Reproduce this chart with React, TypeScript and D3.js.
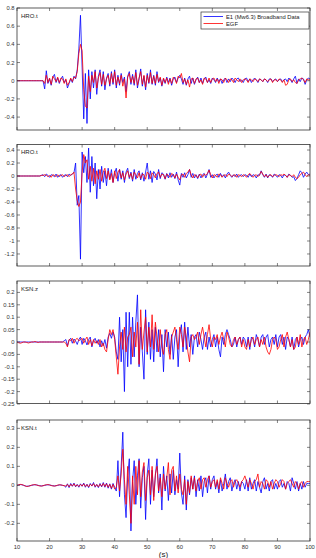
import * as d3 from 'd3';

// sampled every 0.5 s starting at t = 10 s (10 values per row = 5 s)
const T0 = 10;
const DT = 0.5;

const hroT1Data = [
  0, 0, 0, 0, 0, 0, 0, 0, 0, 0,
  0, 0, 0, 0, 0, 0, 0, -0.09, 0.11, -0.03,
  0.02, -0.05, 0.04, 0.07, -0.02, 0.03, -0.03, 0.02, 0.05, -0.02,
  0.01, -0.08, -0.03, 0.02, -0.02, 0.05, 0.02, 0.12, 0.35, 0.72,
  0.15, -0.42, 0.08, -0.47, 0.12, -0.2, 0.1, -0.08, 0.12, -0.15,
  0.05, 0.12, -0.06, 0.1, -0.1, 0.03, 0.08, -0.06, 0.1, -0.04,
  0.12, -0.08, 0.06, -0.05, 0.08, -0.02, 0.04, -0.12, 0.05, 0.1,
  -0.04, 0.07, -0.05, 0.12, -0.08, 0.02, 0.13, -0.06, 0.05, -0.1,
  0.08, -0.03, 0.12, -0.04, 0.06, -0.05, 0.1, -0.02, 0.03, -0.06,
  0.02, -0.03, 0.04, -0.02, 0.03, -0.05, 0.02, 0.04, -0.02, 0.03,
  0.06, 0.02, -0.04, 0.03, -0.05, 0.02, 0.05, -0.03, 0.03, -0.04,
  0.01, 0.04, -0.02, 0.03, -0.03, 0.02, 0.04, -0.02, 0.01, -0.03,
  0.03, 0.01, -0.02, 0.03, -0.01, 0.02, -0.03, 0.01, 0.03, -0.02,
  0.02, -0.01, 0.03, 0.01, -0.02, 0.02, 0.03, -0.01, 0.01, -0.02,
  0.02, 0.03, -0.01, 0.02, -0.02, 0.01, 0.03, 0.01, -0.02, 0.02,
  0.01, -0.01, 0.02, 0.01, -0.02, 0.02, 0.02, -0.01, 0.01, 0.02,
  -0.01, 0.01, 0.02, -0.01, 0.01, 0.02, -0.01, 0.03, 0.01, -0.02,
  0.02, 0.05, -0.03, 0.02, -0.01, 0.03, 0.02, -0.04, 0.01, 0.03,
  0.02,
];
const hroT1Egf = [
  0, 0, 0, 0, 0, 0, 0, 0, 0, 0,
  0, 0, 0, 0, 0, 0, 0, -0.03, 0.06, -0.02,
  0.03, -0.04, 0.05, 0.02, -0.01, 0.04, -0.02, 0.03, 0.02, -0.03,
  0.02, -0.05, -0.02, 0.03, -0.01, 0.04, 0.03, 0.1, 0.3, 0.4,
  0.33, -0.1, -0.28, -0.3, 0.05, -0.12, 0.06, -0.02, 0.1, -0.08,
  0.03, 0.09, -0.04, 0.07, -0.05, 0.02, 0.06, -0.04, 0.08, -0.02,
  0.1, -0.05, 0.04, -0.03, 0.06, -0.06, 0.02, -0.19, 0.04, 0.08,
  -0.02, 0.05, -0.03, 0.09, -0.05, 0.03, 0.1, -0.04, 0.06, -0.07,
  0.06, -0.02, 0.09, -0.03, 0.05, -0.03, 0.07, -0.01, 0.04, -0.05,
  0.03, -0.02, 0.03, -0.04, 0.02, -0.03, 0.04, 0.02, -0.03, 0.05,
  0.03, 0.08, -0.02, 0.02, -0.04, 0.01, -0.07, 0.02, 0.03, -0.03,
  0.02, 0.03, -0.02, 0.01, -0.04, 0.03, 0.02, -0.02, 0.03, -0.02,
  0.02, 0.03, -0.01, 0.02, -0.03, 0.02, 0.01, -0.02, 0.03, 0.01,
  -0.02, 0.02, 0.01, -0.02, 0.03, 0.01, -0.01, 0.02, -0.02, 0.01,
  0.02, 0.01, -0.02, 0.02, 0.01, -0.01, 0.02, 0.01, -0.01, 0.02,
  0.01, -0.01, 0.02, 0.01, -0.01, 0.01, 0.02, -0.02, 0.01, 0.01,
  -0.01, 0.02, 0.01, -0.02, 0.01, -0.05, -0.04, 0.01, 0.02, -0.01,
  0.01, -0.02, -0.03, 0.01, 0.02, 0.03, 0.01, -0.02, 0.02, 0.01,
  0.01,
];

const hroT2Data = [
  0, 0, 0, 0, 0, 0, 0, 0, 0, 0,
  0, 0, 0, 0, 0, 0.01, 0.02, -0.01, 0.03, 0.01,
  -0.02, 0.02, 0.01, -0.01, 0.03, -0.02, 0.01, 0.02, -0.02, 0.01,
  0.02, -0.01, 0.03, 0.01, 0.03, 0.05, 0.2, -0.45, -0.3, -1.28,
  0.37, 0.05, 0.3, -0.1, 0.43, -0.25, 0.3, -0.15, 0.2, -0.35,
  0.1, -0.2, 0.15, -0.1, 0.08, -0.15, 0.12, -0.05, 0.1, -0.1,
  0.05, 0.12, -0.08, 0.1, -0.05, 0.08, -0.1, 0.06, 0.12, -0.04,
  0.06, -0.08, 0.1, -0.05, 0.04, 0.08, -0.06, 0.05, -0.08, 0.06,
  0.2, -0.05, 0.08, -0.1, 0.07, 0.03, -0.06, 0.1, -0.04, 0.05,
  0.03, -0.05, 0.04, -0.03, 0.05, -0.02, 0.03, -0.04, 0.06, -0.06,
  -0.14, 0.04, -0.02, 0.05, -0.03, 0.02, 0.1, -0.02, 0.04, -0.03,
  0.02, -0.04, 0.03, -0.03, 0.02, 0.04, -0.03, 0.03, 0.1, -0.02,
  0.02, -0.03, 0.01, 0.03, -0.02, 0.04, -0.01, 0.02, -0.03, 0.03,
  0.06, 0.01, -0.02, 0.02, -0.01, 0.03, -0.02, 0.01, 0.02, -0.01,
  0.02, 0.01, -0.02, 0.03, -0.01, 0.02, 0.01, -0.03, 0.02, 0.01,
  0.08, 0.02, -0.02, 0.03, -0.03, 0.02, 0.01, -0.02, 0.03, 0.01,
  -0.02, 0.02, 0.01, -0.03, 0.02, 0.01, -0.02, 0.03, 0.01, -0.02,
  -0.01, -0.07, -0.04, 0.02, 0.08, 0.05, -0.02, 0.03, 0.06, 0.02,
  0.03,
];
const hroT2Egf = [
  0, 0, 0, 0, 0, 0, 0, 0, 0, 0,
  0, 0, 0, 0, 0, 0.01, 0.01, 0.02, 0.01, -0.01,
  0.01, -0.02, 0.02, 0.01, -0.01, 0.02, -0.01, 0.01, 0.02, -0.01,
  0.01, 0.02, -0.01, 0.02, 0.03, 0.06, -0.2, -0.38, -0.47, -0.4,
  0.05, 0.33, 0.2, 0.25, -0.05, 0.15, -0.08, 0.12, -0.12, 0.08,
  -0.05, 0.1, -0.08, 0.06, 0.12, -0.04, 0.08, -0.06, 0.04, -0.1,
  0.08, -0.04, 0.06, 0.1, -0.03, 0.05, -0.06, 0.03, 0.08, -0.02,
  0.04, -0.05, 0.06, 0.02, -0.03, 0.05, -0.04, 0.03, 0.02, -0.05,
  0.06, 0.03, -0.04, 0.05, 0.02, -0.03, 0.04, 0.06, -0.02, 0.03,
  0.02, -0.04, 0.03, 0.01, -0.02, 0.04, 0.02, -0.03, 0.03, -0.02,
  -0.06, 0.02, 0.03, -0.02, 0.04, 0.06, 0.1, 0.02, -0.03, 0.02,
  0.01, -0.03, 0.02, 0.03, -0.02, 0.03, 0.01, 0.04, 0.09, 0.02,
  -0.03, 0.02, 0.01, -0.02, 0.03, 0.02, -0.02, 0.01, 0.02, -0.01,
  0.03, 0.02, -0.01, 0.01, 0.02, -0.02, 0.02, 0.01, -0.01, 0.02,
  0.01, -0.02, 0.02, 0.04, 0.01, -0.02, 0.01, 0.02, -0.01, 0.02,
  0.07, 0.03, -0.01, 0.02, -0.02, 0.01, 0.02, -0.01, 0.01, 0.02,
  0.01, -0.01, 0.02, 0.01, 0.03, 0.01, -0.02, 0.02, 0.01, -0.01,
  0.02, -0.02, -0.04, -0.02, 0.02, 0.04, 0.06, 0.02, -0.01, 0.02,
  0.01,
];

const ksnZData = [
  0, 0, 0, 0, 0, 0, 0, 0, 0, 0,
  0, 0, 0, 0, 0, 0, 0, 0, 0, 0,
  0, 0, 0, 0, 0, 0, 0, 0, 0, 0.005,
  0.01, -0.015, 0.008, 0.015, -0.005, 0.012, 0.004, -0.01, 0.01, 0.02,
  -0.01, 0.015, 0.005, -0.012, 0.01, 0.02, -0.02, 0.005, 0.015, -0.005,
  0.01, -0.02, 0.005, -0.015, 0.01, -0.025, 0.02, 0.035, 0.015, 0.04,
  0.02, -0.04, -0.07, 0.1, -0.08, 0.05, -0.2, 0.12, -0.1, 0.12,
  -0.09, 0.1, -0.06, 0.08, 0.19, -0.1, 0.06, -0.04, -0.15, 0.13,
  -0.05, 0.08, -0.07, 0.05, -0.08, 0.06, -0.04, 0.05, -0.06, 0.03,
  -0.12, 0.05, -0.02, 0.04, -0.05, 0.03, -0.07, 0.02, 0.05, -0.1,
  0.03, 0.07, -0.04, 0.08, -0.03, 0.06, -0.02, 0.03, -0.05, 0.02,
  0.03, -0.02, 0.04, 0.01, -0.03, 0.02, 0.04, -0.03, 0.02, -0.02,
  0.01, 0.03, -0.02, 0.02, -0.03, -0.06, 0.02, -0.01, 0.03, 0.05,
  0.03, 0.01, -0.02, -0.01, 0.02, -0.02, 0.01, 0.02, -0.01, 0.02,
  0.01, -0.02, 0.02, -0.03, 0.02, 0.01, -0.02, 0.03, 0.01, -0.02,
  0.02, 0.03, -0.01, 0.02, 0.03, -0.02, 0.01, 0.02, -0.01, 0.03,
  -0.02, 0.02, 0.03, -0.01, 0.02, -0.03, 0.02, 0.01, -0.02, 0.02,
  -0.03, 0.01, 0.02, -0.02, 0.01, 0.02, -0.01, 0.02, 0.03, 0.05,
  0.02,
];
const ksnZEgf = [
  0, -0.003, -0.005, -0.003, 0, 0, -0.002, -0.004, -0.002, 0,
  0, 0.002, 0, -0.002, 0, 0, 0, 0, 0, 0,
  0, 0, 0, 0, 0, 0, 0, 0, 0, 0,
  -0.005, -0.02, 0.01, 0.005, 0.015, -0.005, 0.01, 0.015, 0.005, 0.01,
  0.015, -0.005, 0.01, 0.02, -0.01, 0.01, -0.015, 0.01, -0.005, 0.005,
  -0.01, 0.01, -0.02, -0.005, -0.03, -0.04, 0.01, 0.05, 0.03, 0.05,
  0.01, -0.06, -0.13, -0.02, 0.04, -0.03, 0.06, -0.04, 0.02, 0.03,
  0.06, -0.06, 0.04, -0.02, 0.08, -0.09, 0.13, -0.03, 0.04, 0.1,
  -0.04, 0.06, -0.02, 0.11, -0.03, 0.08, 0.02, -0.04, 0.05, -0.02,
  -0.05, 0.03, 0.05, -0.03, -0.07, 0.02, 0.04, 0.06, 0.01, -0.03,
  0.06, 0.03, -0.02, 0.06, 0.02, -0.04, -0.08, 0.02, 0.03, 0.01,
  0.02, 0.04, -0.01, 0.03, 0.06, 0.02, -0.02, 0.03, 0.07, 0.01,
  -0.02, 0.02, 0.01, 0.03, -0.01, 0.02, 0.04, 0.01, -0.02, 0.04,
  0.02, -0.01, -0.02, 0.01, 0.02, -0.01, 0.01, 0.02, -0.02, 0.01,
  -0.02, -0.03, 0.01, -0.02, 0.01, 0.02, -0.01, 0.01, 0.02, -0.02,
  0.01, -0.01, 0.02, -0.02, -0.04, -0.05, -0.03, 0.01, 0.02, 0.01,
  -0.03, -0.02, 0.01, 0.03, -0.02, 0.02, 0.04, 0.01, -0.02, 0.01,
  -0.03, -0.02, 0.02, -0.01, 0.03, -0.02, 0.01, 0.02, -0.01, 0.01,
  0.04,
];

const ksnTData = [
  0, 0.002, 0.004, 0.003, 0, -0.003, -0.005, -0.004, -0.002, 0,
  0.002, 0.003, 0.002, 0, -0.002, -0.003, -0.002, 0, 0.002, 0.003,
  0.002, 0, -0.002, -0.003, -0.002, 0, 0.002, 0.002, 0, -0.002,
  -0.01, 0.008, -0.012, 0.01, -0.005, 0.012, -0.008, 0.005, -0.01, 0.008,
  -0.005, 0.012, -0.01, 0.006, -0.012, 0.01, -0.004, 0.015, -0.01, 0.005,
  -0.012, 0.01, -0.008, 0.015, -0.01, 0.012, -0.015, 0.008, -0.02, 0.01,
  -0.01, -0.03, 0.13, -0.06, 0.1, 0.28, -0.05, -0.17, 0.05, 0.14,
  -0.24, 0.02, 0.13, -0.1, 0.05, 0.14, -0.12, 0.04, 0.1, -0.18,
  0.06, 0.14, -0.1, 0.08, -0.06, 0.05, 0.14, -0.04, 0.06, -0.13,
  0.1, -0.03, 0.05, -0.08, 0.06, -0.04, 0.08, -0.05, 0.03, -0.02,
  0.17, -0.04, -0.1, 0.05, -0.13, 0.03, -0.05, 0.04, -0.02, 0.05,
  -0.06, 0.03, -0.03, 0.05, -0.06, 0.02, 0.04, -0.04, 0.05, -0.02,
  0.03, 0.05, -0.02, 0.02, -0.04, 0.03, -0.03, 0.01, 0.06, -0.02,
  0.02, 0.04, -0.03, 0.01, 0.03, -0.02, 0.02, -0.03, 0.02, 0.01,
  -0.02, 0.03, -0.03, 0.04, -0.02, 0.01, 0.03, -0.03, 0.02, -0.01,
  -0.04, 0.02, 0.04, -0.02, 0.01, -0.03, 0.02, 0.03, -0.02, 0.01,
  -0.02, 0.02, 0.03, -0.01, 0.01, -0.02, 0.02, 0.01, -0.03, 0.04,
  0.01, -0.02, 0.02, -0.03, 0.01, -0.02, 0.02, -0.01, 0.01, 0.01,
  0.01,
];
const ksnTEgf = [
  0, 0.003, 0.005, 0.004, 0.001, -0.003, -0.006, -0.005, -0.002, 0.001,
  0.003, 0.004, 0.002, -0.001, -0.003, -0.004, -0.002, 0.001, 0.003, 0.004,
  0.002, -0.001, -0.003, -0.004, -0.002, 0.001, 0.003, 0.002, 0, -0.002,
  -0.003, 0.005, -0.008, 0.006, -0.004, 0.008, -0.005, 0.003, -0.006, 0.005,
  -0.004, 0.008, -0.006, 0.004, -0.008, 0.006, -0.003, 0.009, -0.006, 0.004,
  -0.008, 0.006, -0.005, 0.01, -0.006, 0.008, -0.01, 0.005, -0.015, 0.005,
  -0.02, -0.01, 0.05, -0.03, 0.06, 0.19, 0.03, -0.1, 0.1, -0.05,
  -0.2, 0.05, -0.1, 0.1, -0.05, 0.13, -0.06, 0.07, 0.12, -0.08,
  0.04, 0.08, -0.05, 0.1, -0.08, 0.06, 0.1, -0.03, 0.04, -0.06,
  0.06, -0.02, 0.04, 0.12, -0.05, 0.08, 0.1, -0.03, 0.05, -0.04,
  0.06, -0.02, -0.05, 0.03, -0.1, 0.02, -0.04, 0.05, -0.02, 0.04,
  -0.03, 0.02, 0.04, -0.02, 0.03, 0.04, -0.01, 0.03, 0.05, -0.01,
  0.02, 0.03, -0.01, 0.03, -0.02, 0.04, 0.01, -0.02, 0.04, 0.01,
  -0.01, 0.02, 0.03, -0.01, 0.02, 0.03, 0.01, -0.01, 0.02, 0.03,
  0.05, 0.02, -0.01, 0.03, 0.01, -0.02, 0.02, 0.03, 0.06, -0.01,
  0.02, 0.01, -0.02, 0.03, 0.02, -0.01, 0.02, -0.02, 0.01, 0.03,
  0.02, -0.01, 0.01, 0.03, 0.02, -0.02, 0.01, 0.02, 0.03, 0.01,
  -0.01, 0.02, 0.01, -0.02, 0.01, 0.02, -0.01, 0.01, 0.02, 0.02,
  0.02,
];

const stations = ['HRO.t', 'HRO.t', 'KSN.z', 'KSN.t'];
const seriesNames = ['E1 (Mw6.3) Broadband Data', 'EGF'];
const xTicks = [10, 20, 30, 40, 50, 60, 70, 80, 90, 100];
const yTicks1 = [-0.4, -0.2, 0, 0.2, 0.4, 0.6, 0.8];
const yTicks2 = [-1.2, -1, -0.8, -0.6, -0.4, -0.2, 0, 0.2, 0.4];
const yTicks3 = [-0.25, -0.2, -0.15, -0.1, -0.05, 0, 0.05, 0.1, 0.15, 0.2];
const yTicks4 = [-0.2, -0.1, 0, 0.1, 0.2, 0.3];

const W = 316;
const H = 558;
const X0 = 17;
const X1 = 310;

const panels = [
  { name: stations[0], data: hroT1Data, egf: hroT1Egf, ticks: yTicks1, domain: [-0.542, 0.8], top: 8, bottom: 130 },
  { name: stations[1], data: hroT2Data, egf: hroT2Egf, ticks: yTicks2, domain: [-1.385, 0.485], top: 144.5, bottom: 266 },
  { name: stations[2], data: ksnZData, egf: ksnZEgf, ticks: yTicks3, domain: [-0.248, 0.246], top: 281, bottom: 403.5 },
  { name: stations[3], data: ksnTData, egf: ksnTEgf, ticks: yTicks4, domain: [-0.293, 0.344], top: 420, bottom: 541 },
];

const FONT = '"Liberation Sans", Arial, sans-serif';
const fmt = (v: number) => (v === 0 ? '0' : String(+v.toFixed(2)));

export default function App() {
  const x = d3.scaleLinear().domain([10, 100]).range([X0, X1]);

  return (
    <svg width={W} height={H} style={{ position: 'absolute', left: 0, top: 0, background: '#fff' }}>
      <defs>
        {panels.map((p, i) => (
          <clipPath id={`clip${i}`} key={i}>
            <rect x={X0} y={p.top} width={X1 - X0} height={p.bottom - p.top} />
          </clipPath>
        ))}
      </defs>
      {panels.map((p, i) => {
        const y = d3.scaleLinear().domain(p.domain).range([p.bottom, p.top]);
        const line = d3
          .line<number>()
          .x((_, j) => x(T0 + j * DT))
          .y((v) => y(v));
        return (
          <g key={i}>
            <rect x={X0} y={p.top} width={X1 - X0} height={p.bottom - p.top} fill="#fff" />
            <g clipPath={`url(#clip${i})`}>
              <path d={line(p.data) || ''} fill="none" stroke="#0000ff" strokeWidth={0.8} strokeLinejoin="round" />
              <path d={line(p.egf) || ''} fill="none" stroke="#ff0000" strokeWidth={0.8} strokeLinejoin="round" />
            </g>
            <rect x={X0} y={p.top} width={X1 - X0} height={p.bottom - p.top} fill="none" stroke="#333" strokeWidth={0.8} />
            {xTicks.map((t) => (
              <g key={t} stroke="#333" strokeWidth={0.6}>
                <line x1={x(t)} x2={x(t)} y1={p.bottom} y2={p.bottom - 3} />
                <line x1={x(t)} x2={x(t)} y1={p.top} y2={p.top + 3} />
              </g>
            ))}
            {p.ticks.map((v) => (
              <g key={v}>
                <line x1={X0} x2={X0 + 3} y1={y(v)} y2={y(v)} stroke="#333" strokeWidth={0.6} />
                <line x1={X1} x2={X1 - 3} y1={y(v)} y2={y(v)} stroke="#333" strokeWidth={0.6} />
                <text x={X0 - 2.5} y={y(v) + 2} textAnchor="end" fontSize={5.8} fontFamily={FONT} fill="#333">
                  {fmt(v)}
                </text>
              </g>
            ))}
            <text x={X0 + 4} y={p.top + 9.5} fontSize={6} fontFamily={FONT} fill="#222">
              {p.name}
            </text>
          </g>
        );
      })}
      {xTicks.map((t) => (
        <text key={t} x={x(t)} y={549} textAnchor="middle" fontSize={5.8} fontFamily={FONT} fill="#333">
          {t}
        </text>
      ))}
      <text x={(X0 + X1) / 2} y={557} textAnchor="middle" fontSize={8} fontFamily={FONT} fill="#222">
        (s)
      </text>
      <g>
        <rect x={201} y={12} width={108} height={17} fill="#fff" stroke="#333" strokeWidth={0.7} />
        <line x1={203.5} x2={223} y1={16.5} y2={16.5} stroke="#0000ff" strokeWidth={0.8} />
        <line x1={203.5} x2={223} y1={23.5} y2={23.5} stroke="#ff0000" strokeWidth={0.8} />
        <text x={226} y={18.7} fontSize={5.8} fontFamily={FONT} fill="#222">
          {seriesNames[0]}
        </text>
        <text x={226} y={25.7} fontSize={5.8} fontFamily={FONT} fill="#222">
          {seriesNames[1]}
        </text>
      </g>
    </svg>
  );
}
